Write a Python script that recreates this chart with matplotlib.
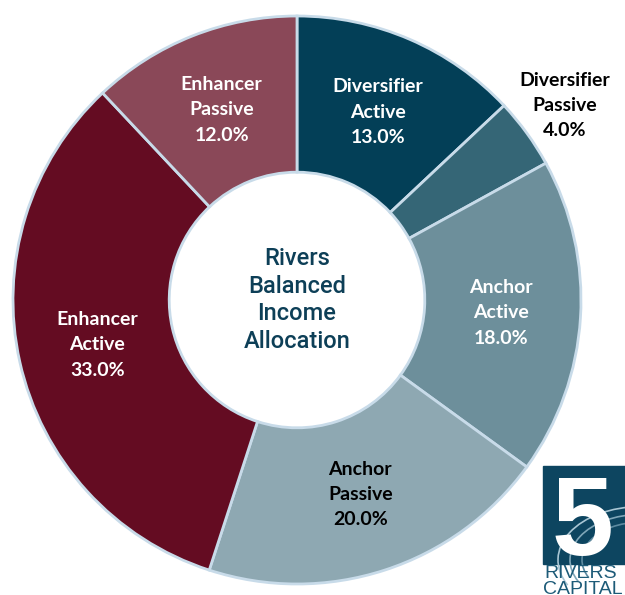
import numpy as np
import matplotlib
matplotlib.use('Agg')
import matplotlib.pyplot as plt
from matplotlib.patches import Rectangle, Arc

# slice data, clockwise from 12 o'clock
names = ['Diversifier\nActive', 'Diversifier\nPassive', 'Anchor\nActive',
         'Anchor\nPassive', 'Enhancer\nActive', 'Enhancer\nPassive']
shares = [13.0, 4.0, 18.0, 20.0, 33.0, 12.0]
colors = ['#033f57', '#356676', '#6d8f9b', '#8ea8b2', '#640c22', '#8a4858']
text_colors = ['white', 'black', 'white', 'black', 'white', 'white']
label_dist = [0.72, 1.165, 0.72, 0.72, 0.72, 0.72]

fig = plt.figure(figsize=(6.25, 5.95), dpi=100)
ax = fig.add_axes([0, 0, 1, 1])

wedges, _ = ax.pie(shares, colors=colors, startangle=90, counterclock=False,
                   radius=1.0,
                   wedgeprops=dict(width=0.55, edgecolor='#c8dbe9', linewidth=2))

for w, name, val, tc, d in zip(wedges, names, shares, text_colors, label_dist):
    mid = np.deg2rad((w.theta1 + w.theta2) / 2)
    ax.text(d * np.cos(mid), d * np.sin(mid), f'{name}\n{val:.1f}%',
            ha='center', va='center', color=tc, fontsize=14,
            fontweight='bold', family='Lato', linespacing=1.6)

ax.text(0, 0.0, 'Rivers\nBalanced\nIncome\nAllocation', ha='center', va='center',
        color='#0d3f57', fontsize=17, family='Roboto', fontweight='medium',
        linespacing=1.25)

# pixel-matched limits: centre at (297, 300), radius 284 px
ax.set_xlim(-297 / 284, (625 - 297) / 284)
ax.set_ylim(-(595 - 300) / 284, 300 / 284)
ax.set_aspect('auto')
ax.axis('off')

# 5 Rivers Capital logo, bottom right (figure pixel coords)
def fx(x):
    return x / 625
def fy(y):
    return 1 - y / 595

fig.patches.append(Rectangle((fx(543), fy(564)), fx(90), 98 / 595,
                             transform=fig.transFigure, color='#0d4560', zorder=5))
for r, c in [(70, '#7fa6b8'), (58, '#5d8aa0'), (82, '#a9c6d4')]:
    fig.patches.append(Arc((fx(640), fy(560)), 2 * r / 625, 1.3 * r / 595,
                           theta1=90, theta2=200, transform=fig.transFigure,
                           color=c, lw=1.2, zorder=6))
fig.text(fx(582), fy(555), '5', ha='center', va='baseline', color='white',
         fontsize=80, fontweight='bold', family='Liberation Sans', zorder=7)
fig.text(fx(544), fy(573), 'RIVERS', ha='left', va='center', color='#1d5b78',
         fontsize=14, family='Liberation Sans', zorder=7)
fig.text(fx(543), fy(589), 'CAPITAL', ha='left', va='center', color='#1d5b78',
         fontsize=14, family='Liberation Sans', zorder=7)

fig.savefig('out.png', dpi=100, facecolor='white')
